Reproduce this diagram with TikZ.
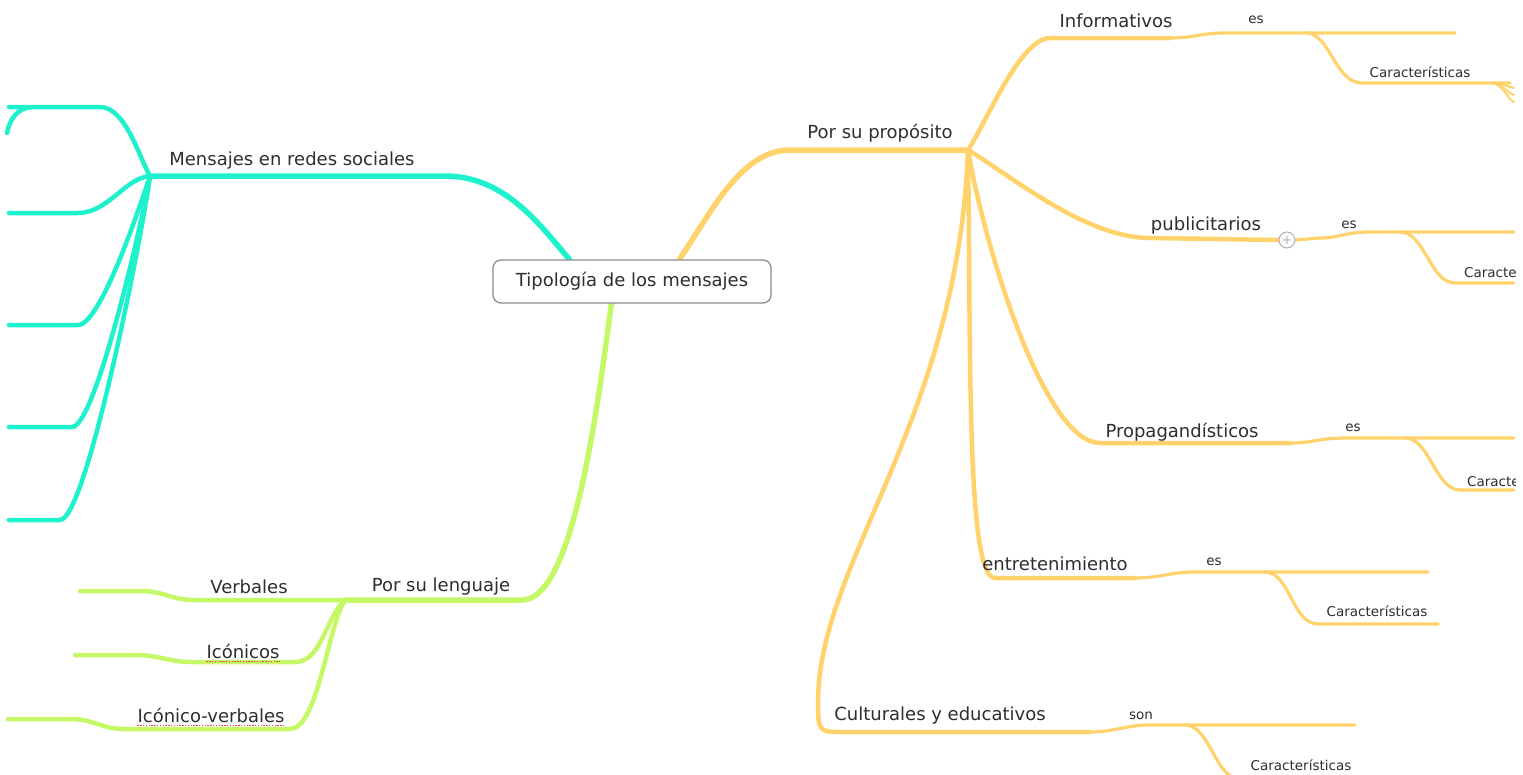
\documentclass[tikz,border=0pt]{standalone}
\usepackage{fontspec}
\setmainfont{DejaVu Sans}
\usetikzlibrary{calc}
\definecolor{aqua}{RGB}{30,242,205}
\definecolor{amber}{RGB}{255,210,108}
\definecolor{lime}{RGB}{196,248,102}
\definecolor{ink}{RGB}{45,45,52}
\definecolor{frame}{RGB}{140,140,140}
\definecolor{spell}{RGB}{240,70,70}
\definecolor{knob}{RGB}{175,175,175}
\pgfdeclarelayer{wires}
\pgfsetlayers{wires,main}

\begin{document}
\begin{tikzpicture}[x=1pt,y=-1pt,
  trunk/.style={line width=5.5pt,line cap=round,line join=round},
  limb/.style={line width=4.5pt,line cap=round,line join=round},
  twig/.style={line width=3.2pt,line cap=round,line join=round},
  lblbig/.style={font=\fontsize{18}{21}\selectfont,text=ink,inner sep=0pt},
  lblsmall/.style={font=\fontsize{13.5}{16}\selectfont,text=ink,inner sep=0pt},
  spellmark/.style={spell,line width=1.4pt,dash pattern=on 1.4pt off 1.4pt}]

\useasboundingbox (0,0) rectangle (1523,774);
\clip (0,0) rectangle (1515,774);

% central topic
\node[draw=frame,line width=1.3pt,rounded corners=8pt,fill=white,
      minimum width=278pt,minimum height=43pt,lblbig] (root) at (632,281.5)
      {Tipología de los mensajes};

% ---------------- labels ----------------
\node[lblbig] (redes) at (292,161) {Mensajes en redes sociales};
\node[lblbig] (lenguaje) at (441,587) {Por su lenguaje};
\node[lblbig] (verb) at (249,587) {Verbales};
\node[lblbig] (ico) at (243,651) {Icónicos};
\node[lblbig] (icoverb) at (211,715) {Icónico-verbales};
\node[lblbig] (proposito) at (880,133) {Por su propósito};
\node[lblbig] (info) at (1116,21) {Informativos};
\node[lblsmall] (infoes) at (1256,20) {es};
\node[lblsmall] (infocar) at (1420,72) {Características};
\node[lblbig] (publi) at (1206,226) {publicitarios};
\node[lblsmall] (publies) at (1349,225) {es};
\node[lblsmall,anchor=west] (publicar) at (1464,272) {Características};
\node[lblbig] (propa) at (1182,432) {Propagandísticos};
\node[lblsmall] (propaes) at (1353,428) {es};
\node[lblsmall,anchor=west] (propacar) at (1467,481) {Características};
\node[lblbig] (entre) at (1055,564) {entretenimiento};
\node[lblsmall] (entrees) at (1214,562) {es};
\node[lblsmall] (entrecar) at (1377,611) {Características};
\node[lblbig] (cult) at (940,716) {Culturales y educativos};
\node[lblsmall] (cultson) at (1141,716) {son};
\node[lblsmall] (cultcar) at (1301,765) {Características};

% spell-check marks under two labels
\draw[spellmark] ($(ico.south west)+(0,3)$) -- ($(ico.south east)+(0,3)$);
\draw[spellmark] ($(icoverb.south west)+(0,3)$) -- ($(icoverb.south east)+(0,3)$);

% collapse knob on the publicitarios branch
\node[circle,draw=knob,fill=white,line width=1pt,minimum size=16pt,inner sep=0pt,
      text=knob,font=\fontsize{13}{13}\selectfont] (plus) at (1287,240) {+};

% ---------------- branch points ----------------
\coordinate (hubM) at (150,176);
\coordinate (bendM) at (445,176);
\coordinate (hubL) at (345,600);
\coordinate (bendL) at (522,600);
\coordinate (hubP) at (968,150);
\coordinate (bendP) at (790,150);

\begin{pgfonlayer}{wires}
\clip (0,0) rectangle (1515,774);
% ---- cyan: Mensajes en redes sociales ----
\draw[aqua,trunk] ($(root.north west)+(77,0)$) .. controls (540,225) and (505,176) .. (bendM) -- (hubM);
\coordinate (m1c) at (100,107); \coordinate (m1e) at (9,107);
\coordinate (m1f) at (32,107);  \coordinate (m1g) at (7,133);
\coordinate (m2c) at (78,213);  \coordinate (m2e) at (9,213);
\coordinate (m3c) at (78,325);  \coordinate (m3e) at (9,325);
\coordinate (m4c) at (72,427);  \coordinate (m4e) at (9,427);
\coordinate (m5c) at (60,520);  \coordinate (m5e) at (9,520);
\draw[aqua,limb] (hubM) .. controls (140,160) and (126,107) .. (m1c) -- (m1e);
\draw[aqua,limb] (m1f) .. controls (18,108) and (10,118) .. (m1g);
\draw[aqua,limb] (hubM) .. controls (125,178) and (108,213) .. (m2c) -- (m2e);
\draw[aqua,limb] (hubM) .. controls (138,212) and (100,325) .. (m3c) -- (m3e);
\draw[aqua,limb] (hubM) .. controls (141,228) and (95,427) .. (m4c) -- (m4e);
\draw[aqua,limb] (hubM) .. controls (141,242) and (86,520) .. (m5c) -- (m5e);

% ---- green: Por su lenguaje ----
\draw[lime,trunk] ($(root.south west)+(119,0)$) .. controls (596,420) and (572,600) .. (bendL) -- (hubL);
\coordinate (v1) at (195,600); \coordinate (v2) at (140,591); \coordinate (v3) at (80,591);
\coordinate (i1) at (295,662); \coordinate (i2) at (192,662); \coordinate (i3) at (135,655); \coordinate (i4) at (75,655);
\coordinate (k1) at (290,729); \coordinate (k2) at (125,729); \coordinate (k3) at (70,719); \coordinate (k4) at (8,719);
\draw[lime,limb] (hubL) -- (v1) .. controls (170,600) and (165,591) .. (v2) -- (v3);
\draw[lime,limb] (hubL) .. controls (325,618) and (322,662) .. (i1) -- (i2)
      .. controls (168,662) and (160,655) .. (i3) -- (i4);
\draw[lime,limb] (hubL) .. controls (328,625) and (318,729) .. (k1) -- (k2)
      .. controls (100,729) and (95,719) .. (k3) -- (k4);

% ---- amber: Por su propósito ----
\draw[amber,trunk] ($(root.north west)+(187,0)$) .. controls (710,215) and (740,150) .. (bendP) -- (hubP);

% Informativos
\coordinate (f1) at (1050,38); \coordinate (f2) at (1170,38);
\coordinate (f3) at (1225,33); \coordinate (f4) at (1455,33);
\coordinate (f5) at (1306,33); \coordinate (f6) at (1362,83); \coordinate (f7) at (1510,83);
\draw[amber,limb] (hubP) .. controls (985,125) and (1020,38) .. (f1) -- (f2);
\draw[amber,twig] (f2) .. controls (1195,38) and (1200,33) .. (f3) -- (f4);
\draw[amber,twig] (f5) .. controls (1330,33) and (1335,83) .. (f6) -- (f7);
\coordinate (fa) at (1492,83);
\coordinate (fb) at (1514,88); \coordinate (fc) at (1514,95); \coordinate (fd) at (1514,102);
\draw[amber,line width=2pt,line cap=round] (fa) .. controls (1502,83) and (1505,86) .. (fb);
\draw[amber,line width=2pt,line cap=round] (fa) .. controls (1503,84) and (1506,92) .. (fc);
\draw[amber,line width=2pt,line cap=round] (fa) .. controls (1504,85) and (1507,99) .. (fd);

% publicitarios
\coordinate (p1) at (1150,238);
\coordinate (p2) at (1320,238); \coordinate (p3) at (1370,232); \coordinate (p4) at (1514,232);
\coordinate (p5) at (1400,232); \coordinate (p6) at (1455,283); \coordinate (p7) at (1514,283);
\draw[amber,limb] (hubP) .. controls (1010,175) and (1085,238) .. (p1) -- (plus.west);
\draw[amber,twig] (plus.east) -- (p2) .. controls (1340,238) and (1345,232) .. (p3) -- (p4);
\draw[amber,twig] (p5) .. controls (1425,232) and (1430,283) .. (p6) -- (p7);

% Propagandísticos
\coordinate (g1) at (1100,443); \coordinate (g2) at (1290,443);
\coordinate (g3) at (1345,438); \coordinate (g4) at (1514,438);
\coordinate (g5) at (1405,438); \coordinate (g6) at (1460,490); \coordinate (g7) at (1514,490);
\draw[amber,limb] (hubP) .. controls (985,250) and (1045,443) .. (g1) -- (g2);
\draw[amber,twig] (g2) .. controls (1312,443) and (1320,438) .. (g3) -- (g4);
\draw[amber,twig] (g5) .. controls (1430,438) and (1435,490) .. (g6) -- (g7);

% entretenimiento
\coordinate (e1) at (995,578); \coordinate (e2) at (1135,578);
\coordinate (e3) at (1195,572); \coordinate (e4) at (1428,572);
\coordinate (e5) at (1265,572); \coordinate (e6) at (1318,624); \coordinate (e7) at (1438,624);
\draw[amber,limb] (hubP) .. controls (971,350) and (966,578) .. (e1) -- (e2);
\draw[amber,twig] (e2) .. controls (1160,578) and (1170,572) .. (e3) -- (e4);
\draw[amber,twig] (e5) .. controls (1290,572) and (1292,624) .. (e6) -- (e7);

% Culturales y educativos
\coordinate (c0) at (818,700); \coordinate (c1) at (845,732); \coordinate (c2) at (1090,732);
\coordinate (c3) at (1150,725); \coordinate (c4) at (1355,725);
\coordinate (c5) at (1185,725); \coordinate (c6) at (1240,779); \coordinate (c7) at (1360,779);
\draw[amber,limb] (hubP) .. controls (958,420) and (820,560) .. (c0)
      .. controls (818,732) and (818,732) .. (c1) -- (c2);
\draw[amber,twig] (c2) .. controls (1115,732) and (1125,725) .. (c3) -- (c4);
\draw[amber,twig] (c5) .. controls (1210,725) and (1215,779) .. (c6) -- (c7);
\end{pgfonlayer}
\end{tikzpicture}
\end{document}
